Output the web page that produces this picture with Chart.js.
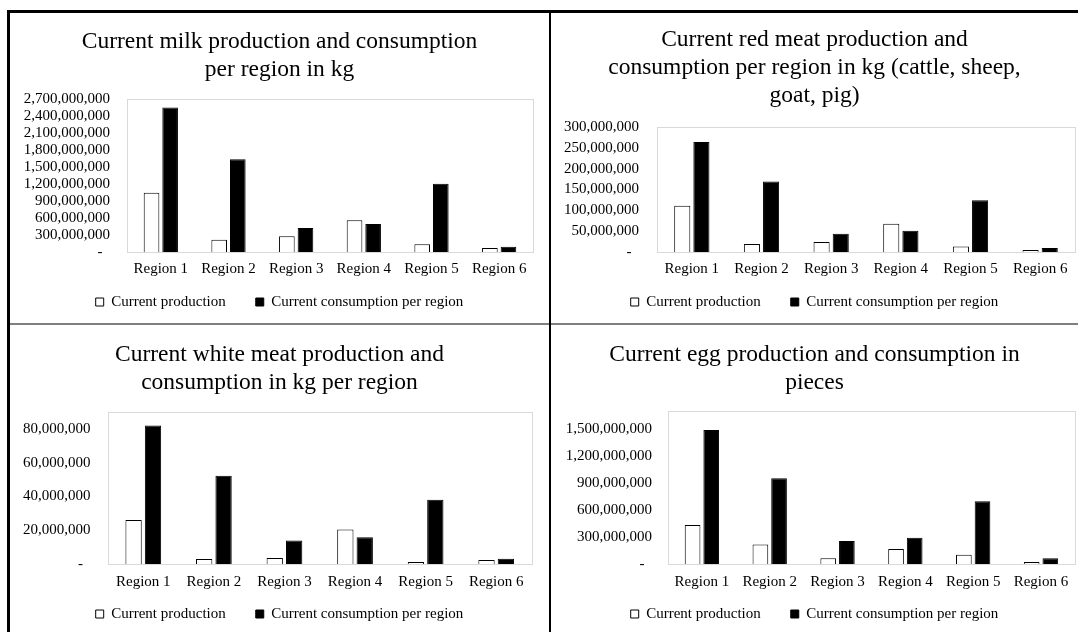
<!DOCTYPE html>
<html>
<head>
<meta charset="utf-8">
<script src="https://cdn.jsdelivr.net/npm/chart.js@4.4.1/dist/chart.umd.min.js"></script>
<style>
  html, body { margin: 0; padding: 0; background: #fff; }
  body { width: 1078px; height: 632px; position: relative; overflow: hidden; }
  canvas { position: absolute; }
  .rule { position: absolute; }
</style>
</head>
<body>
<canvas id="milk"  width="539" height="310" style="left:10px;top:13px"></canvas>
<canvas id="red"   width="527" height="310" style="left:551px;top:13px"></canvas>
<canvas id="white" width="539" height="307" style="left:10px;top:325px"></canvas>
<canvas id="egg"   width="527" height="307" style="left:551px;top:325px"></canvas>

<!-- panel frame -->
<div class="rule" style="left:10px;top:323px;width:1068px;height:2px;background:#7f7f7f"></div>
<div class="rule" style="left:7px;top:10px;width:1071px;height:3px;background:#000"></div>
<div class="rule" style="left:7px;top:10px;width:3px;height:622px;background:#000"></div>
<div class="rule" style="left:549px;top:10px;width:2px;height:622px;background:#000"></div>

<script>
// Categories
const regions = ['Region 1', 'Region 2', 'Region 3', 'Region 4', 'Region 5', 'Region 6'];
const seriesNames = ['Current production', 'Current consumption per region'];

// Milk, kg
const milkProduction  = [1045000000, 215000000, 276000000, 559000000, 135000000, 71000000];
const milkConsumption = [2550000000, 1635000000, 424000000, 494000000, 1206000000, 94000000];
const milkTicks = [0, 300000000, 600000000, 900000000, 1200000000, 1500000000,
                   1800000000, 2100000000, 2400000000, 2700000000];
const milkMax = 2700000000;

// Red meat, kg
const redProduction  = [111000000, 19000000, 24000000, 68000000, 13500000, 4800000];
const redConsumption = [264000000, 169000000, 44000000, 51000000, 124000000, 9500000];
const redTicks = [0, 50000000, 100000000, 150000000, 200000000, 250000000, 300000000];
const redMax = 300000000;

// White meat, kg
const whiteProduction  = [26000000, 2900000, 3500000, 20500000, 1200000, 2300000];
const whiteConsumption = [82000000, 52300000, 13900000, 15800000, 38000000, 3100000];
const whiteTicks = [0, 20000000, 40000000, 60000000, 80000000];
const whiteMax = 90000000;

// Eggs, pieces
const eggProduction  = [433000000, 218000000, 63000000, 167000000, 104000000, 22000000];
const eggConsumption = [1490000000, 952000000, 256000000, 293000000, 696000000, 63000000];
const eggTicks = [0, 300000000, 600000000, 900000000, 1200000000, 1500000000];
const eggMax = 1700000000;

Chart.defaults.font.family = '"Liberation Serif", "Times New Roman", serif';
Chart.defaults.color = '#000';

// light grey frame round the plot area; axis labels may hang outside their boxes
const plotFrame = {
  id: 'plotFrame',
  beforeDraw(chart) {
    chart.scales.x._computeLabelArea = () => undefined;
    chart.scales.y._computeLabelArea = () => undefined;
  },
  beforeDatasetsDraw(chart) {
    const { ctx, chartArea: a } = chart;
    ctx.save();
    ctx.strokeStyle = '#d9d9d9';
    ctx.lineWidth = 1;
    ctx.strokeRect(Math.round(a.left) + 0.5, Math.round(a.top) + 0.5,
                   Math.round(a.width), Math.round(a.height));
    ctx.restore();
  }
};

function tickLabel(v) {
  return v === 0 ? '-  ' : Number(v).toLocaleString('en-US');
}

function barChart(id, titleLines, production, consumption, tickValues, maxValue, lay) {
  new Chart(document.getElementById(id), {
    type: 'bar',
    data: {
      labels: regions,
      datasets: [
        { label: seriesNames[0], data: production,
          backgroundColor: '#ffffff', borderColor: '#000000', borderWidth: 1 },
        { label: seriesNames[1], data: consumption,
          backgroundColor: '#000000', borderColor: '#000000', borderWidth: 1 }
      ]
    },
    options: {
      responsive: false,
      animation: false,
      devicePixelRatio: 1,
      datasets: { bar: { categoryPercentage: 0.55, barPercentage: 0.84 } },
      layout: { padding: { left: lay.side, top: 0, right: lay.side, bottom: lay.bottom } },
      plugins: {
        title: {
          display: true,
          text: titleLines,
          color: '#000',
          font: { size: 23.5, weight: 'normal', lineHeight: '28px' },
          padding: { top: lay.titleTop, bottom: lay.titleBottom }
        },
        legend: {
          position: 'bottom',
          labels: { boxWidth: 8, boxHeight: 8, padding: 30, font: { size: 15 }, color: '#000' }
        },
        tooltip: { enabled: false }
      },
      scales: {
        x: {
          grid: { display: false, drawTicks: false },
          border: { display: false },
          ticks: { font: { size: 15 }, padding: lay.xPad, color: '#000', maxRotation: 0, autoSkip: false },
          afterFit(s) { s.height = 12.5; }
        },
        y: {
          min: 0, max: maxValue,
          grid: { display: false, drawTicks: false },
          border: { display: false },
          ticks: { font: { size: 15 }, padding: lay.yPad, color: '#000', autoSkip: false,
                   callback: tickLabel },
          afterBuildTicks(s) { s.ticks = tickValues.map(value => ({ value })); },
          afterFit(s) { s.width = lay.axisW; }
        }
      }
    },
    plugins: [plotFrame]
  });
}

barChart('milk',
  ['Current milk production and consumption', 'per region in kg'],
  milkProduction, milkConsumption, milkTicks, milkMax,
  { titleTop: 15, titleBottom: 15, side: 16, axisW: 101, yPad: 17, bottom: 3.5, xPad: 8 });

barChart('red',
  ['Current red meat production and', 'consumption per region in kg (cattle, sheep,', 'goat, pig)'],
  redProduction, redConsumption, redTicks, redMax,
  { titleTop: 13, titleBottom: 17, side: 3, axisW: 103, yPad: 18, bottom: 3.5, xPad: 8 });

barChart('white',
  ['Current white meat production and', 'consumption in kg per region'],
  whiteProduction, whiteConsumption, whiteTicks, whiteMax,
  { titleTop: 16, titleBottom: 15, side: 17.5, axisW: 80.5, yPad: 17.5, bottom: 0.5, xPad: 9.5 });

barChart('egg',
  ['Current egg production and consumption in', 'pieces'],
  eggProduction, eggConsumption, eggTicks, eggMax,
  { titleTop: 16, titleBottom: 14, side: 2.5, axisW: 114.5, yPad: 16, bottom: 0.5, xPad: 9.5 });
</script>
</body>
</html>
